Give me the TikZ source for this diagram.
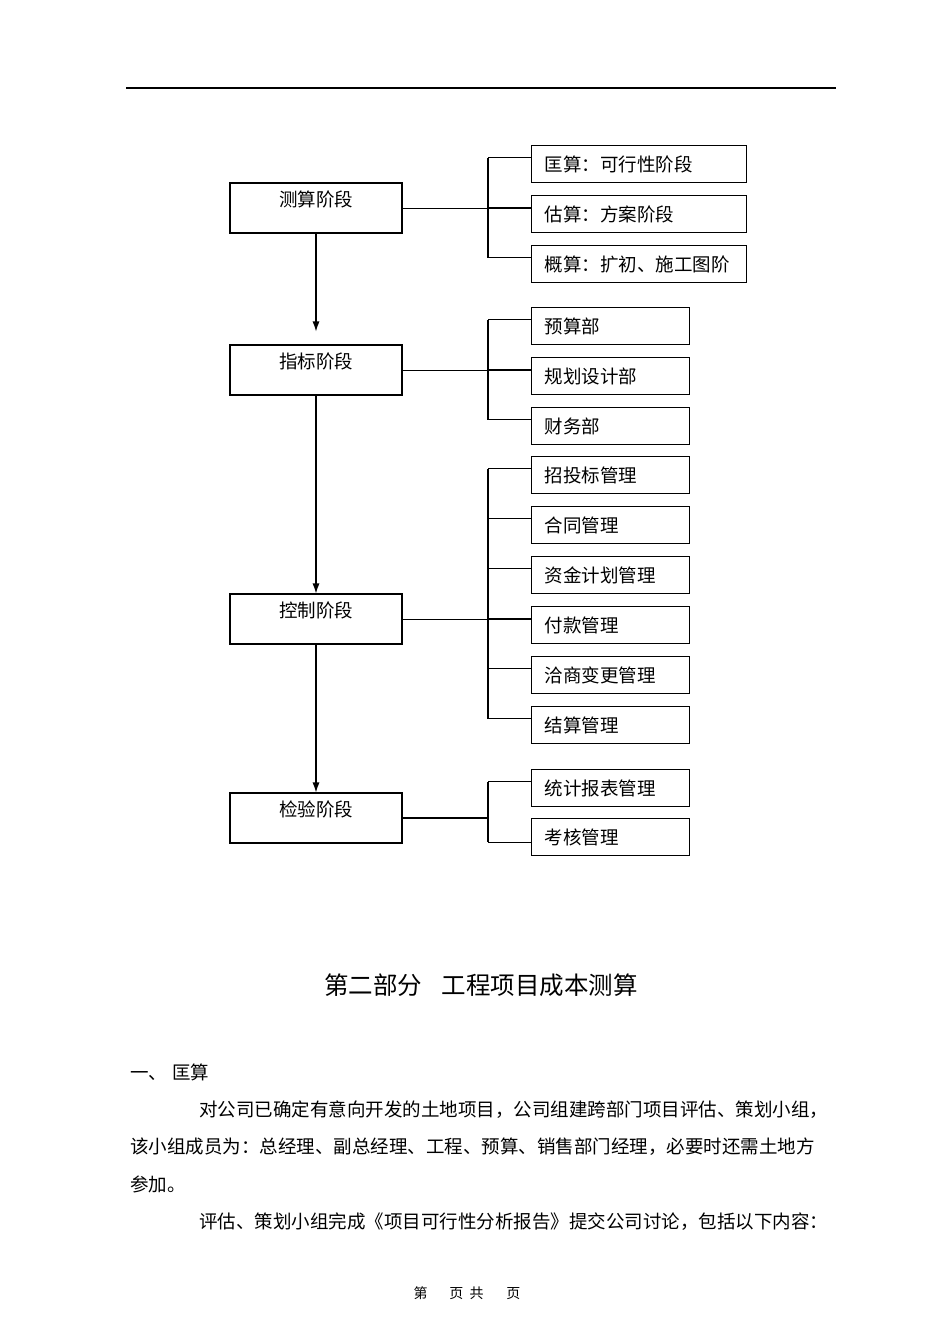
\documentclass[tikz,border=0pt]{standalone}
\usepackage{fontspec}
\setmainfont{Noto Sans CJK SC}
\usetikzlibrary{calc, arrows.meta, shadows, positioning}
\newcommand{\boxfont}{\fontsize{18.5pt}{22pt}\selectfont}
\newcommand{\titlefont}{\fontsize{24.5pt}{28pt}\selectfont}
\newcommand{\footfont}{\fontsize{14pt}{16pt}\selectfont}
\tikzset{
    stagenode/.style = {draw, rectangle, fill=white, line width=1.1pt, inner sep=0pt,
      minimum width=172pt, minimum height=50pt, text height=23pt, text depth=27pt, font=\boxfont,
      drop shadow={shadow xshift=0.9pt, shadow yshift=-0.9pt, opacity=1, fill=black}},
    itemnode/.style = {draw, rectangle, fill=white, line width=1.1pt, inner xsep=13pt, inner ysep=0pt,
      minimum height=37pt, text width=132pt, align=left, font=\boxfont,
      drop shadow={shadow xshift=0.9pt, shadow yshift=-0.9pt, opacity=1, fill=black}},
    widenode/.style = {itemnode, text width=189pt},
    textnode/.style = {draw=none, fill=none, rectangle, inner sep=0pt, font=\boxfont},
    flowarrow/.style = {line width=1.1pt, -{Latex[length=10pt, width=7pt]}},
    bracketline/.style = {line width=1.8pt},
    branchline/.style = {line width=0.9pt}
}

\begin{document}
\begin{tikzpicture}[x=1pt, y=-1pt]
    \useasboundingbox (0,0) rectangle (950,1344);

    % header rule
    \draw[line width=2.2pt] (126,88) -- (836,88);

    % stages
    \node [name=cesuan, stagenode] at (316,208) {测算阶段};
    \node [name=zhibiao, stagenode] at (316,370) {指标阶段};
    \node [name=kongzhi, stagenode] at (316,619) {控制阶段};
    \node [name=jianyan, stagenode] at (316,818) {检验阶段};

    \draw [flowarrow, shorten >=13pt] (cesuan.south) -- (zhibiao.north);
    \draw [flowarrow] (zhibiao.south) -- (kongzhi.north);
    \draw [flowarrow] (kongzhi.south) -- (jianyan.north);

    % items of the first stage
    \node [name=r11, widenode, anchor=north west] at (531,145) {匡算：可行性阶段};
    \node [name=r12, widenode, below=11.9pt of r11.south west, anchor=north west] {估算：方案阶段};
    \node [name=r13, widenode, below=11.9pt of r12.south west, anchor=north west] {概算：扩初、施工图阶};

    % items of the second stage
    \node [name=r21, itemnode, anchor=north west] at (531,307) {预算部};
    \node [name=r22, itemnode, below=11.9pt of r21.south west, anchor=north west] {规划设计部};
    \node [name=r23, itemnode, below=11.9pt of r22.south west, anchor=north west] {财务部};

    % items of the third stage
    \node [name=r31, itemnode, anchor=north west] at (531,456) {招投标管理};
    \node [name=r32, itemnode, below=11.9pt of r31.south west, anchor=north west] {合同管理};
    \node [name=r33, itemnode, below=11.9pt of r32.south west, anchor=north west] {资金计划管理};
    \node [name=r34, itemnode, below=11.9pt of r33.south west, anchor=north west] {付款管理};
    \node [name=r35, itemnode, below=11.9pt of r34.south west, anchor=north west] {洽商变更管理};
    \node [name=r36, itemnode, below=11.9pt of r35.south west, anchor=north west] {结算管理};

    % items of the fourth stage
    \node [name=r41, itemnode, anchor=north west] at (531,769) {统计报表管理};
    \node [name=r42, itemnode, below=10.9pt of r41.south west, anchor=north west] {考核管理};

    % brackets
    \foreach \r in {r11,r12,r13,r21,r22,r23,r31,r32,r33,r34,r35,r36,r41}
        \draw [branchline] ($(\r.north west)+(0,12.5)$) -- ++(-43,0);
    \draw [branchline] ($(r42.north west)+(0,24)$) -- ++(-43,0);
    \draw [bracketline] ($(r11.north west)+(-43,12.5)$) -- ($(r13.north west)+(-43,12.5)$);
    \draw [bracketline] ($(r21.north west)+(-43,12.5)$) -- ($(r23.north west)+(-43,12.5)$);
    \draw [bracketline] ($(r31.north west)+(-43,12.5)$) -- ($(r36.north west)+(-43,12.5)$);
    \draw [bracketline] ($(r41.north west)+(-43,12.5)$) -- ($(r42.north west)+(-43,24)$);
    \draw [branchline] (cesuan.east) -- (cesuan.east -| r12.west);
    \draw [branchline] (zhibiao.east) -- (zhibiao.east -| r22.west);
    \draw [branchline] (kongzhi.east) -- (kongzhi.east -| r34.west);
    \draw [bracketline] (jianyan.east) -- ++(86,0);

    % text of the page
    \node [name=title, textnode, font=\titlefont] at (481,985) {第二部分\hspace{0.8em}工程项目成本测算};
    \node [name=sec1, textnode, anchor=west] at (130,1072) {一、\hspace{5pt}匡算};
    \node [name=para1, textnode, anchor=west] at (199,1110) {对公司已确定有意向开发的土地项目，公司组建跨部门项目评估、策划小组，};
    \node [name=para2, textnode, anchor=west] at (130,1147) {该小组成员为：总经理、副总经理、工程、预算、销售部门经理，必要时还需土地方};
    \node [name=para3, textnode, anchor=west] at (130,1184) {参加。};
    \node [name=para4, textnode, anchor=west] at (199,1222) {评估、策划小组完成《项目可行性分析报告》提交公司讨论，包括以下内容：};
    \node [name=footer, textnode, font=\footfont] at (467,1293) {第\hspace{22pt}页\hspace{6pt}共\hspace{23pt}页};
\end{tikzpicture}
\end{document}
